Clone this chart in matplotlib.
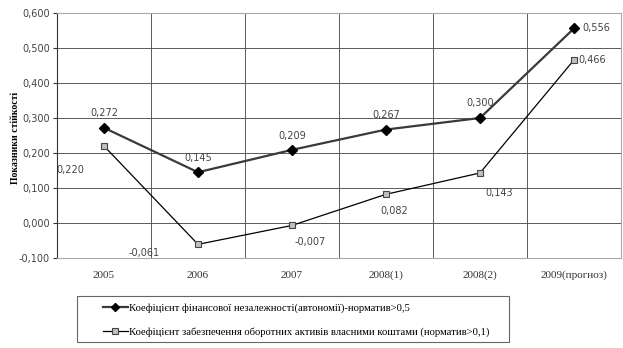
import matplotlib
matplotlib.use('Agg')
import matplotlib.pyplot as plt
from matplotlib.patches import Rectangle
import numpy as np

categories = ['2005', '2006', '2007', '2008(1)', '2008(2)', '2009(прогноз)']
autonomy = [0.272, 0.145, 0.209, 0.267, 0.300, 0.556]
own_funds = [0.220, -0.061, -0.007, 0.082, 0.143, 0.466]
label_autonomy = 'Коефіцієнт фінансової незалежності(автономії)-норматив>0,5'
label_own = 'Коефіцієнт забезпечення оборотних активів власними коштами (норматив>0,1)'

# label offsets in pixels (dx, dy down)
off_autonomy = [(0, -15), (0, -14), (0, -14), (0, -15), (0, -15), (22, 0)]
off_own = [(-34, 24), (-54, 9), (18, 17), (8, 17), (19, 20), (18, 0)]

W, H = 623, 348
fig = plt.figure(figsize=(W/100, H/100), dpi=100)
ax = fig.add_axes([57/W, 1-258/H, 564/W, 245/H])
x = np.arange(len(categories))

ax.plot(x, autonomy, color='#3a3a3a', lw=1.6, marker='D', ms=5,
        mfc='black', mec='black', label=label_autonomy, zorder=3)
ax.plot(x, own_funds, color='black', lw=0.9, marker='s', ms=5,
        mfc='#c0c0c0', mec='#444444', mew=0.8, label=label_own, zorder=3)

px = 0.72
for xi, v, (dx, dy) in zip(x, autonomy, off_autonomy):
    ax.annotate(f'{v:.3f}'.replace('.', ','), (xi, v), xytext=(dx*px, -dy*px),
                textcoords='offset points', ha='center', va='center',
                fontsize=7, color='#444444', family='DejaVu Sans')
for xi, v, (dx, dy) in zip(x, own_funds, off_own):
    ax.annotate(f'{v:.3f}'.replace('.', ','), (xi, v), xytext=(dx*px, -dy*px),
                textcoords='offset points', ha='center', va='center',
                fontsize=7, color='#444444', family='DejaVu Sans')

ax.set_xlim(-0.5, len(categories) - 0.5)
ax.set_ylim(-0.1, 0.6)
yt = np.arange(-0.1, 0.61, 0.1)
ax.set_yticks(yt)
ax.set_yticklabels([f'{v:.3f}'.replace('.', ',') for v in yt],
                   fontsize=7, family='DejaVu Sans', color='#444444')
ax.set_xticks(x)
ax.set_xticklabels(categories, fontsize=8, family='Liberation Serif',
                   color='#333333')
ax.tick_params(axis='x', length=0, pad=9)
ax.tick_params(axis='y', length=3, width=0.8, pad=2, color='#333333')
ax.set_xticks(np.arange(0.5, len(categories) - 0.5), minor=True)
ax.tick_params(axis='x', which='minor', length=0)
ax.grid(axis='y', which='major', color='#5a5a5a', lw=0.7)
ax.grid(axis='x', which='minor', color='#5a5a5a', lw=0.7)
ax.set_axisbelow(True)
for s in ['top', 'right', 'bottom']:
    ax.spines[s].set_color('#aaaaaa')
    ax.spines[s].set_linewidth(0.8)
ax.spines['left'].set_color('#333333')
ax.spines['left'].set_linewidth(0.8)

ax.set_ylabel('Показники стійкості', fontsize=7, family='Liberation Serif',
              fontweight='bold')
ax.yaxis.set_label_coords(-0.066, 0.49)

# legend box drawn separately to get the wide left padding
fig.patches.append(Rectangle((77/W, 1-342/H), 432/W, 46/H,
                             transform=fig.transFigure, fill=False,
                             edgecolor='#666666', lw=0.8))
h, l = ax.get_legend_handles_labels()
leg = fig.legend(h, l, loc='center left', bbox_to_anchor=(103/W, 1-320/H),
                 prop={'family': 'Liberation Serif', 'size': 7.7},
                 frameon=False, handlelength=2.3, borderpad=0,
                 labelspacing=1.35, handletextpad=0.1, borderaxespad=0,
                 markerscale=0.8)
fig.savefig('out.png', dpi=100)
